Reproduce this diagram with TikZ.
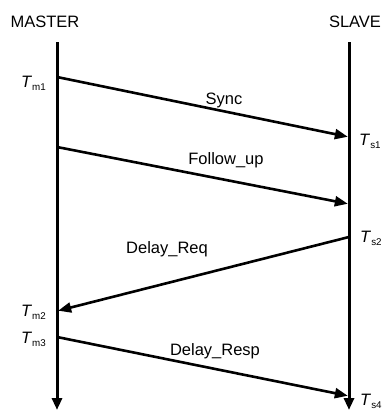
\documentclass[tikz,border=0pt]{standalone}
\usepackage{fontspec}
\setmainfont{Liberation Sans}
\usetikzlibrary{arrows.meta}
\begin{document}
\begin{tikzpicture}[x=1pt,y=-1pt,
  lbl/.style={font=\fontsize{16.5}{18}\selectfont, inner sep=0pt, anchor=base},
  tstamp/.style={font=\fontsize{16.5}{18}\selectfont, inner sep=0pt},
  timeline/.style={line width=3pt, -{Triangle[length=12pt,width=10pt]}},
  msg/.style={line width=2.6pt, -{Triangle[length=13pt,width=10pt]}, shorten >=1.2pt}]
  \newcommand{\tlab}[1]{\textit{T}\raisebox{-0.35ex}{\fontsize{9.8}{11}\selectfont #1}}
  \useasboundingbox (0,0) rectangle (382,410);

  % station headings
  \node[lbl] (master) at (45,27) {MASTER};
  \node[lbl] (slave) at (355,27) {SLAVE};

  % time axes
  \coordinate (mtop) at (57,42);
  \coordinate (mbot) at (57,410);
  \coordinate (stop) at (349,42);
  \coordinate (sbot) at (349,410);
  \draw[timeline] (mtop) -- (mbot);
  \draw[timeline] (stop) -- (sbot);

  % event points
  \coordinate (m1) at (57,77);
  \coordinate (s1) at (349,137);
  \coordinate (mf) at (57,147);
  \coordinate (sf) at (349,204);
  \coordinate (s2) at (349,237);
  \coordinate (m2) at (57,311);
  \coordinate (m3) at (57,337);
  \coordinate (s4) at (349,396);

  % messages
  \draw[msg] (m1) -- (s1);
  \draw[msg] (mf) -- (sf);
  \draw[msg] (s2) -- (m2);
  \draw[msg] (m3) -- (s4);

  \node[lbl] (sync) at (224,104) {Sync};
  \node[lbl] (fup) at (226,164) {Follow\_up};
  \node[lbl] (dreq) at (167,253) {Delay\_Req};
  \node[lbl] (dresp) at (215,355) {Delay\_Resp};

  % timestamps
  \node[tstamp, anchor=base east] (tm1) at (46,87) {\tlab{m1}};
  \node[tstamp, anchor=base east] (tm2) at (46,316) {\tlab{m2}};
  \node[tstamp, anchor=base east] (tm3) at (46,343) {\tlab{m3}};
  \node[tstamp, anchor=base west] (ts1) at (359,145) {\tlab{s1}};
  \node[tstamp, anchor=base west] (ts2) at (360,242) {\tlab{s2}};
  \node[tstamp, anchor=base west] (ts4) at (360,405) {\tlab{s4}};
\end{tikzpicture}
\end{document}
